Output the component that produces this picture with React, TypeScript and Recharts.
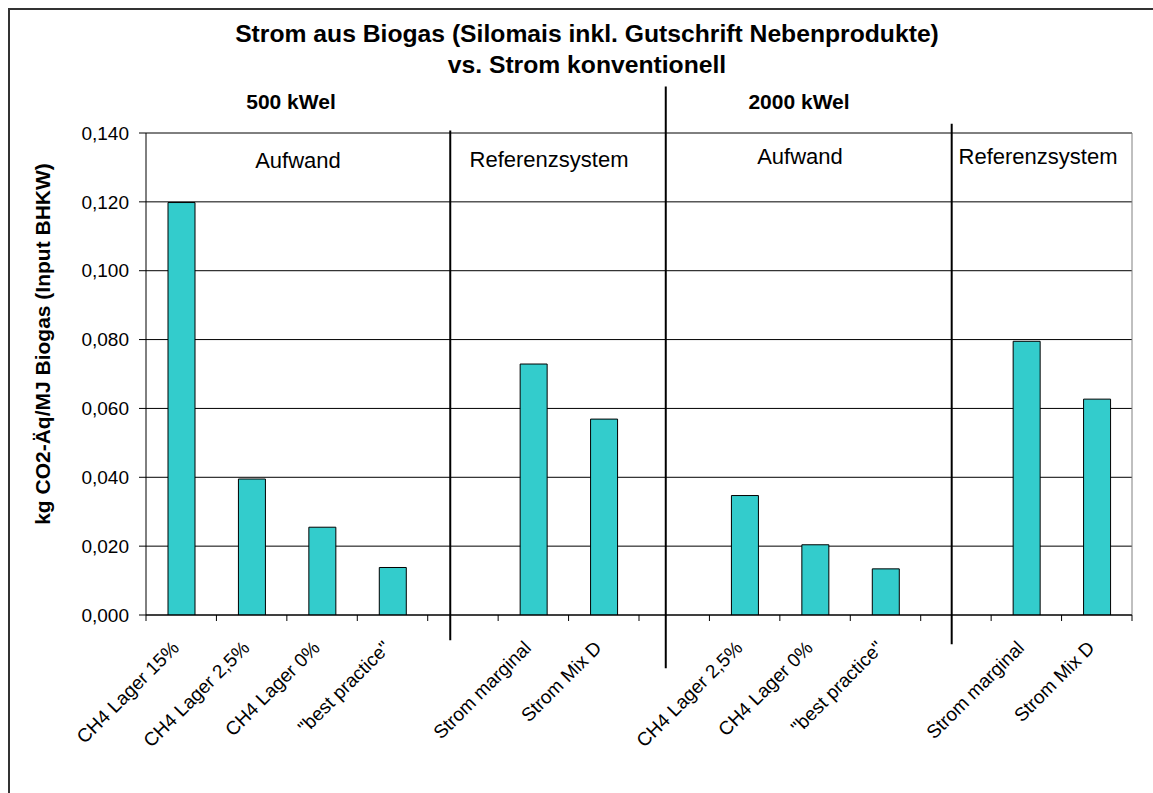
import React from 'react';
import {
  BarChart,
  Bar,
  CartesianGrid,
  XAxis,
  YAxis,
  ReferenceLine,
} from 'recharts';

// categories in plot order, empty strings are the gaps between the groups
const categories = [
  'CH4 Lager 15%',
  'CH4 Lager 2,5%',
  'CH4 Lager 0%',
  '"best practice"',
  '',
  'Strom marginal',
  'Strom Mix D',
  '',
  'CH4 Lager 2,5%',
  'CH4 Lager 0%',
  '"best practice"',
  '',
  'Strom marginal',
  'Strom Mix D',
];

// kg CO2-Äq/MJ Biogas
const values = [
  0.1198, 0.0395, 0.0255, 0.0138, null, 0.0729, 0.0569, null,
  0.0347, 0.0204, 0.0134, null, 0.0795, 0.0627,
];

const yTicks = [0, 0.02, 0.04, 0.06, 0.08, 0.1, 0.12, 0.14];

// vertical divider lines (category units / value units)
const separators = [
  { x: 4.32, top: 0.1407, bottom: -0.0073 },
  { x: 7.38, top: 0.1535, bottom: -0.0155 },
  { x: 11.44, top: 0.1427, bottom: -0.0085 },
];

const FONT = '"Liberation Sans", Arial, sans-serif';

// pos = slot centre on the numeric helper axis
const data = categories.map((name, i) => ({ name, pos: i + 0.5, value: values[i] }));

// boundaries get a tick mark, half steps carry the category label
const xTicks = categories.flatMap((_, i) => [i, i + 0.5]).concat(categories.length);

const XTick = (props: any) => {
  const { x, y, payload } = props;
  const v = payload.value as number;
  if (Number.isInteger(v)) {
    return <line x1={x} x2={x} y1={y} y2={y + 6} stroke="#000" strokeWidth={1} />;
  }
  const label = categories[Math.floor(v)];
  const tx = x - 1;
  const ty = y + 34;
  return (
    <text
      x={tx}
      y={ty}
      textAnchor="end"
      transform={`rotate(-45, ${tx}, ${ty})`}
      fontSize={19}
      fontFamily={FONT}
      fill="#000"
    >
      {label}
    </text>
  );
};

const Separator = (props: any) => {
  const { x1, y1, x2, y2 } = props;
  return <line x1={x1} y1={y1} x2={x2} y2={y2} stroke="#000" strokeWidth={2} />;
};

export default function App() {
  return (
    <div>
      <div
        style={{
          position: 'fixed',
          left: 8,
          top: 8,
          width: 1145,
          height: 785,
          borderTop: '2px solid #333',
          borderLeft: '2px solid #333',
          boxSizing: 'border-box',
          background: '#fff',
        }}
      />
      <div style={{ position: 'fixed', left: 10, top: 10 }}>
        <BarChart
          width={1143}
          height={783}
          data={data}
          margin={{ top: 123, right: 21, bottom: 0, left: 66 }}
        >
          <CartesianGrid vertical={false} stroke="#000" xAxisId="num" />
          <XAxis xAxisId="cat" dataKey="name" hide height={0} />
          <XAxis
            xAxisId="num"
            dataKey="pos"
            type="number"
            domain={[0, categories.length]}
            allowDataOverflow
            ticks={xTicks}
            interval={0}
            height={178}
            tickSize={0}
            tickMargin={0}
            tickLine={false}
            tick={<XTick />}
            axisLine={{ stroke: '#000' }}
            allowDecimals
          />
          <YAxis
            domain={[0, 0.14]}
            ticks={yTicks}
            width={70}
            tickSize={7}
            tickMargin={10}
            interval={0}
            allowDataOverflow
            tickFormatter={(v: number) => v.toFixed(3).replace('.', ',')}
            tick={{ fontSize: 19, fontFamily: FONT, fill: '#000' }}
            axisLine={{ stroke: '#000' }}
            tickLine={{ stroke: '#000' }}
          />
          {/* grey plot-area frame, top and right */}
          <ReferenceLine
            xAxisId="num"
            y={0.14}
            stroke="#808080"
            ifOverflow="visible"
          />
          <ReferenceLine
            xAxisId="num"
            x={categories.length}
            stroke="#808080"
            ifOverflow="visible"
          />
          <Bar
            xAxisId="cat"
            dataKey="value"
            fill="#33CCCC"
            stroke="#000"
            strokeWidth={1}
            barSize={27}
            isAnimationActive={false}
          />
          {separators.map((s, i) => (
            <ReferenceLine
              key={i}
              xAxisId="num"
              segment={[
                { x: s.x, y: s.top },
                { x: s.x, y: s.bottom },
              ]}
              ifOverflow="visible"
              shape={<Separator />}
            />
          ))}
        </BarChart>
      </div>
      <svg
        width={1153}
        height={793}
        style={{ position: 'fixed', left: 0, top: 0, pointerEvents: 'none' }}
        fontFamily={FONT}
        fill="#000"
      >
        <text x={587} y={42} textAnchor="middle" fontSize={24.7} fontWeight="bold">
          Strom aus Biogas (Silomais inkl. Gutschrift Nebenprodukte)
        </text>
        <text x={587} y={73} textAnchor="middle" fontSize={24.7} fontWeight="bold">
          vs. Strom konventionell
        </text>
        <text x={291} y={109} textAnchor="middle" fontSize={21} fontWeight="bold">
          500 kWel
        </text>
        <text x={799} y={109} textAnchor="middle" fontSize={21} fontWeight="bold">
          2000 kWel
        </text>
        <text x={298} y={168} textAnchor="middle" fontSize={22}>
          Aufwand
        </text>
        <text x={549} y={167} textAnchor="middle" fontSize={22}>
          Referenzsystem
        </text>
        <text x={800} y={164} textAnchor="middle" fontSize={22}>
          Aufwand
        </text>
        <text x={1038} y={164} textAnchor="middle" fontSize={22}>
          Referenzsystem
        </text>
        <text
          x={50}
          y={344}
          textAnchor="middle"
          fontSize={21}
          fontWeight="bold"
          transform="rotate(-90, 50, 344)"
        >
          kg CO2-Äq/MJ Biogas (Input BHKW)
        </text>
      </svg>
    </div>
  );
}
